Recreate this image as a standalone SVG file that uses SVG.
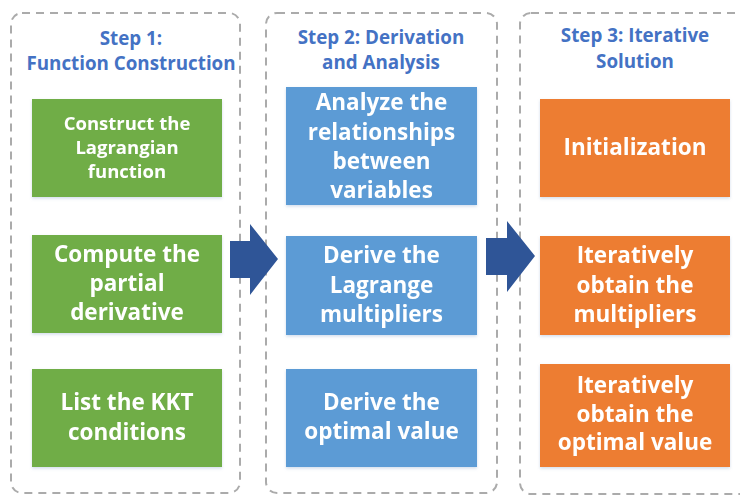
<svg xmlns="http://www.w3.org/2000/svg" width="740" height="496" viewBox="0 0 740 496">
  <style>
    .panel { fill: #ffffff; stroke: #ababab; stroke-width: 2; stroke-dasharray: 8 6; }
    .title { font-family: "Open Sans", "Noto Sans", sans-serif; font-weight: bold; font-size: 18.8px; fill: #4472c4; text-anchor: middle; }
    .lbl { font-family: "Open Sans", "Noto Sans", sans-serif; font-weight: bold; font-size: 22.5px; fill: #ffffff; text-anchor: middle; }
    .lbl-s { font-size: 18.5px; }
    .green { fill: #70ad47; }
    .blue { fill: #5b9bd5; }
    .orange { fill: #ed7d31; }
    .arrow { fill: #2f5597; }
  </style>
  <defs>
    <filter id="soft" x="-10%" y="-10%" width="120%" height="125%">
      <feDropShadow dx="0" dy="1.5" stdDeviation="1.5" flood-color="#7f9fc8" flood-opacity="0.35"/>
    </filter>
  </defs>

  <rect width="740" height="496" fill="#ffffff"/>

  <!-- column frames -->
  <g id="panel-step1">
    <rect class="panel" x="11" y="13" width="229" height="480" rx="11"/>
    <text class="title" x="131" y="45">Step  1:</text>
    <text class="title" x="131" y="70">Function Construction</text>
  </g>
  <g id="panel-step2">
    <rect class="panel" x="266" y="13" width="231" height="480" rx="11"/>
    <text class="title" x="381" y="43.5">Step 2: Derivation</text>
    <text class="title" x="381" y="69">and Analysis</text>
  </g>
  <g id="panel-step3">
    <rect class="panel" x="520" y="13" width="240" height="481" rx="11"/>
    <text class="title" x="635" y="42">Step 3: Iterative</text>
    <text class="title" x="635" y="67.5">Solution</text>
  </g>

  <!-- step 1 nodes -->
  <g id="node-lagrangian" filter="url(#soft)">
    <rect class="green" x="32" y="99" width="190" height="98"/>
    <text class="lbl lbl-s" x="127" y="130">Construct the</text>
    <text class="lbl lbl-s" x="127" y="154">Lagrangian</text>
    <text class="lbl lbl-s" x="127" y="178">function</text>
  </g>
  <g id="node-partial" filter="url(#soft)">
    <rect class="green" x="32" y="235" width="190" height="98"/>
    <text class="lbl" x="127" y="262">Compute the</text>
    <text class="lbl" x="127" y="291">partial</text>
    <text class="lbl" x="127" y="320">derivative</text>
  </g>
  <g id="node-kkt" filter="url(#soft)">
    <rect class="green" x="32" y="369" width="190" height="98"/>
    <text class="lbl" x="127" y="410">List the KKT</text>
    <text class="lbl" x="127" y="440">conditions</text>
  </g>

  <!-- step 2 nodes -->
  <g id="node-relationships" filter="url(#soft)">
    <rect class="blue" x="286" y="87" width="191" height="118"/>
    <text class="lbl" x="381.5" y="110">Analyze the</text>
    <text class="lbl" x="381.5" y="140">relationships</text>
    <text class="lbl" x="381.5" y="169">between</text>
    <text class="lbl" x="381.5" y="198">variables</text>
  </g>
  <g id="node-multipliers" filter="url(#soft)">
    <rect class="blue" x="286" y="236" width="191" height="99"/>
    <text class="lbl" x="381.5" y="263">Derive the</text>
    <text class="lbl" x="381.5" y="293">Lagrange</text>
    <text class="lbl" x="381.5" y="322">multipliers</text>
  </g>
  <g id="node-optimal" filter="url(#soft)">
    <rect class="blue" x="286" y="369" width="191" height="98"/>
    <text class="lbl" x="381.5" y="410">Derive the</text>
    <text class="lbl" x="381.5" y="439">optimal value</text>
  </g>

  <!-- step 3 nodes -->
  <g id="node-init" filter="url(#soft)">
    <rect class="orange" x="540" y="99" width="190" height="98"/>
    <text class="lbl" x="635" y="155">Initialization</text>
  </g>
  <g id="node-iter-multipliers" filter="url(#soft)">
    <rect class="orange" x="540" y="236" width="190" height="99"/>
    <text class="lbl" x="635" y="263">Iteratively</text>
    <text class="lbl" x="635" y="293">obtain the</text>
    <text class="lbl" x="635" y="322">multipliers</text>
  </g>
  <g id="node-iter-optimal" filter="url(#soft)">
    <rect class="orange" x="540" y="364" width="190" height="103"/>
    <text class="lbl" x="635" y="393">Iteratively</text>
    <text class="lbl" x="635" y="422">obtain the</text>
    <text class="lbl" x="635" y="450">optimal value</text>
  </g>

  <!-- block arrows between steps -->
  <g id="connectors">
    <polygon class="arrow" points="230,241 250,241 250,224 278,259 250,295 250,278 230,278"/>
    <polygon class="arrow" points="486,238 507,238 507,221 535,256 507,292 507,275 486,275"/>
  </g>
</svg>
